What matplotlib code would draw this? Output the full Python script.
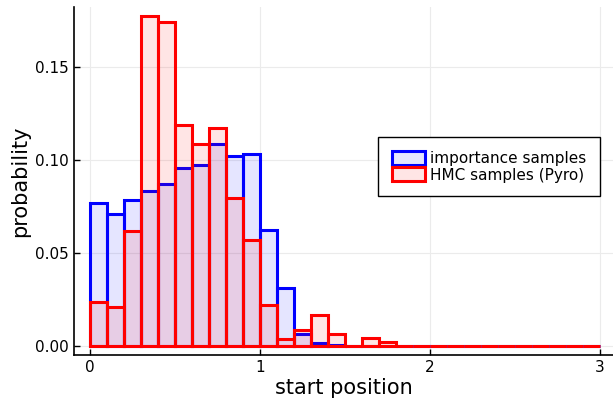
import matplotlib
matplotlib.use("Agg")
import matplotlib.pyplot as plt
import numpy as np
from matplotlib.patches import Patch

# bin edges 0..3, width 0.1
bin_left = np.round(np.arange(0, 3.0, 0.1), 2)

importance = [0.0767, 0.0708, 0.0785, 0.0833, 0.0869, 0.0955, 0.0973, 0.1086, 0.1022, 0.1031,
              0.0624, 0.0310, 0.0064, 0.0014, 0.0003, 0.0, 0.0, 0.0, 0.0, 0.0,
              0.0, 0.0, 0.0, 0.0, 0.0, 0.0, 0.0, 0.0, 0.0, 0.0]
hmc = [0.0238, 0.0211, 0.0615, 0.1770, 0.1738, 0.1188, 0.1084, 0.1170, 0.0797, 0.0568,
       0.0218, 0.0036, 0.0087, 0.0167, 0.0063, 0.0, 0.0042, 0.0024, 0.0, 0.0,
       0.0, 0.0, 0.0, 0.0, 0.0, 0.0, 0.0, 0.0, 0.0, 0.0]

labels = ['importance samples', 'HMC samples (Pyro)']

fig = plt.figure(figsize=(6.13, 4.04), dpi=100)
ax = fig.add_axes([74 / 613, 49 / 404, 539 / 613, 348 / 404])

for vals, col in [(importance, 'blue'), (hmc, 'red')]:
    ax.bar(bin_left, vals, width=0.1, align='edge',
           facecolor=matplotlib.colors.to_rgba(col, 0.1),
           edgecolor=col, linewidth=2.2, zorder=3)

ax.set_xlim(-0.094, 3.076)
ax.set_ylim(-0.0048, 0.182)
ax.set_xticks([0, 1, 2, 3])
ax.set_yticks([0, 0.05, 0.10, 0.15])
ax.set_yticklabels(['0.00', '0.05', '0.10', '0.15'])
ax.grid(True, color='#ebebeb', linewidth=0.8, zorder=0)
ax.tick_params(direction='in', length=4, labelsize=11, width=1)
for s in ['top', 'right']:
    ax.spines[s].set_visible(False)
for s in ['left', 'bottom']:
    ax.spines[s].set_linewidth(1.2)

ax.set_xlabel('start position', fontsize=15, labelpad=2)
ax.set_ylabel('probability', fontsize=15, labelpad=4)

handles = [Patch(facecolor=matplotlib.colors.to_rgba('blue', 0.1), edgecolor='blue', linewidth=2.2),
           Patch(facecolor=matplotlib.colors.to_rgba('red', 0.1), edgecolor='red', linewidth=2.2)]
leg = ax.legend(handles, labels, loc='upper right', bbox_to_anchor=(0.976, 0.626),
                fontsize=11, fancybox=False, framealpha=1, edgecolor='black',
                handlelength=2.2, handleheight=1.0, handletextpad=0.3,
                borderpad=0.9, borderaxespad=0, labelspacing=0.1)
leg.get_frame().set_linewidth(1.0)

fig.savefig('out.png', dpi=100)
